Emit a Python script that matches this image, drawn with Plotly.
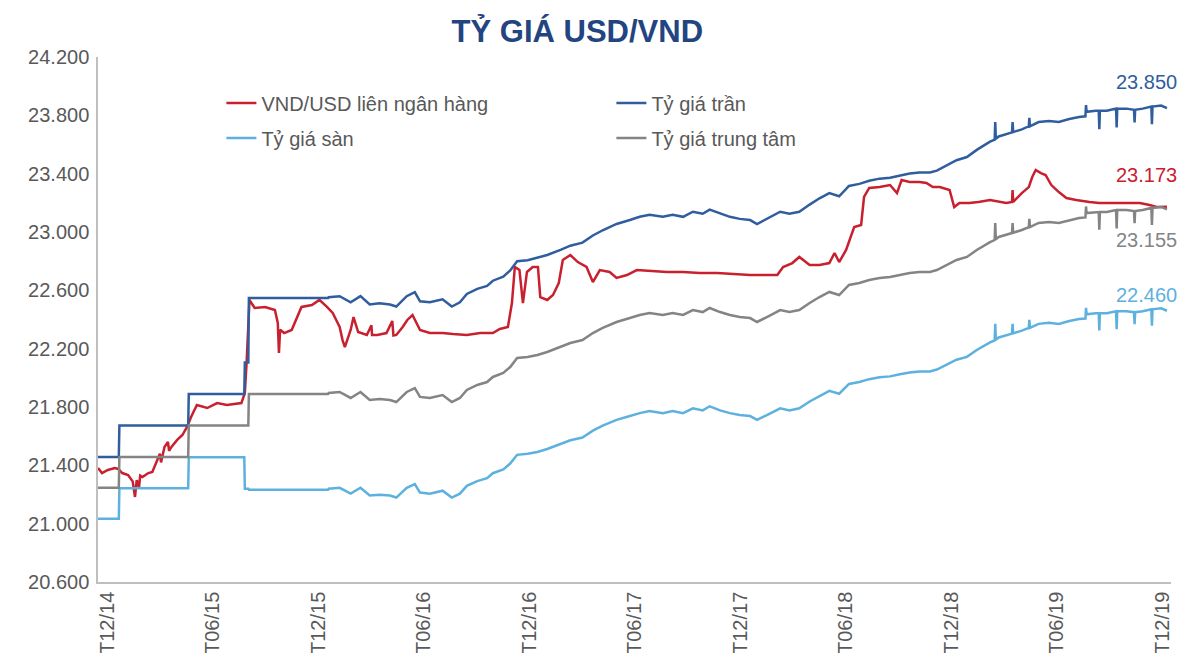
import plotly.graph_objects as go

# ---------------- data ----------------
# Interbank VND/USD rate
ib_dates = ['2014-12-01','2014-12-08','2014-12-18','2014-12-30','2015-01-05','2015-01-12','2015-01-22','2015-01-30',
            '2015-02-03','2015-02-06','2015-02-10','2015-02-12','2015-02-16','2015-02-26','2015-03-05','2015-03-14',
            '2015-03-18','2015-03-20','2015-03-26','2015-04-01','2015-04-03','2015-04-07',
            '2015-04-17','2015-04-26','2015-05-04','2015-05-11','2015-05-21','2015-06-08','2015-06-25','2015-07-12',
            '2015-08-06','2015-08-12','2015-08-15','2015-08-20','2015-08-29','2015-09-16','2015-10-03','2015-10-08',
            '2015-10-10','2015-10-12','2015-10-19','2015-11-01','2015-11-10','2015-11-18','2015-12-06','2015-12-19',
            '2016-01-01','2016-01-11','2016-01-23','2016-01-28','2016-02-01','2016-02-11','2016-02-16','2016-02-24',
            '2016-03-10','2016-03-18','2016-03-19','2016-03-28','2016-04-13','2016-04-23','2016-04-25','2016-04-30',
            '2016-05-11','2016-05-19','2016-05-28','2016-06-10',
            '2016-06-27','2016-07-19','2016-08-06','2016-08-30','2016-09-22','2016-10-14','2016-10-26','2016-11-09',
            '2016-11-16','2016-11-21','2016-11-29','2016-12-05','2016-12-12','2016-12-22','2016-12-31','2017-01-04',
            '2017-01-16','2017-01-26','2017-02-05','2017-02-12','2017-02-25','2017-03-10','2017-03-25','2017-04-05',
            '2017-04-17','2017-05-04','2017-05-16','2017-06-03','2017-06-20','2017-07-12','2017-08-11','2017-09-08',
            '2017-10-07','2017-11-06','2017-12-03','2018-01-02','2018-01-24','2018-02-18','2018-02-28','2018-03-16',
            '2018-03-28','2018-04-15','2018-05-02','2018-05-19','2018-05-28','2018-06-05','2018-06-17','2018-06-26',
            '2018-07-01','2018-07-13','2018-07-18','2018-07-27','2018-08-14','2018-09-01','2018-09-13','2018-09-21',
            '2018-10-05','2018-10-22','2018-11-03','2018-11-14','2018-11-26','2018-12-13','2018-12-21','2018-12-30',
            '2019-01-16','2019-02-01','2019-02-21','2019-03-21','2019-03-31','2019-04-01','2019-04-02','2019-04-17',
            '2019-04-29','2019-05-05','2019-05-11','2019-05-20','2019-05-28','2019-06-07','2019-06-20','2019-07-03',
            '2019-07-20','2019-08-12','2019-08-29','2019-09-21','2019-10-15','2019-11-07','2019-11-24','2019-12-06',
            '2019-12-24']
ib_values = [21382,21347,21368,21382,21375,21347,21334,21290,
             21183,21299,21250,21330,21320,21347,21354,21437,
             21480,21420,21526,21560,21500,21526,
             21574,21608,21663,21731,21814,21793,21827,21814,
             21827,21896,22102,22534,22479,22486,22465,22376,
             22170,22330,22307,22328,22417,22486,22499,22534,
             22486,22445,22349,22259,22211,22328,22417,22314,
             22294,22360,22294,22294,22307,22390,22290,22294,
             22349,22397,22431,22328,
             22307,22307,22300,22294,22307,22307,22335,22349,
             22513,22760,22739,22513,22726,22760,22760,22554,
             22534,22568,22650,22808,22842,22794,22760,22657,
             22739,22726,22685,22705,22739,22733,22726,22726,
             22719,22719,22712,22705,22705,22705,22760,22787,
             22829,22774,22774,22787,22856,22794,22877,22980,
             23034,23048,23240,23302,23308,23322,23267,23356,
             23343,23343,23336,23308,23308,23288,23171,23199,
             23199,23206,23219,23199,23206,23288,23206,23267,
             23308,23377,23425,23404,23391,23322,23274,23233,
             23219,23206,23199,23199,23199,23199,23185,23172,
             23173]

# Central / ceiling / floor rates (same dates)
ref_dates = ['2014-12-01','2015-01-06','2015-01-07','2015-05-06','2015-05-07','2015-08-11','2015-08-12','2015-08-18',
             '2015-08-19','2016-01-03','2016-01-04','2016-01-23','2016-02-11','2016-02-28','2016-03-15','2016-04-01',
             '2016-04-19','2016-04-30','2016-05-18','2016-06-01','2016-06-10','2016-06-27','2016-07-19','2016-08-04',
             '2016-08-18','2016-08-30','2016-09-17','2016-10-04','2016-10-14','2016-11-01','2016-11-13','2016-11-25',
             '2016-12-13','2016-12-30','2017-01-16','2017-02-08','2017-02-25','2017-03-18','2017-04-05','2017-04-22',
             '2017-05-16','2017-06-08','2017-06-25','2017-07-12','2017-08-04','2017-08-21','2017-09-08','2017-09-25',
             '2017-10-12','2017-10-24','2017-11-11','2017-11-28','2017-12-15','2018-01-02','2018-01-14','2018-01-31',
             '2018-02-23','2018-03-11','2018-03-28','2018-04-15','2018-05-02','2018-05-19','2018-06-05','2018-06-22',
             '2018-07-10','2018-07-27','2018-08-14','2018-09-01','2018-09-18','2018-10-05','2018-10-22','2018-11-09',
             '2018-11-21','2018-12-08','2018-12-25','2019-01-12','2019-01-29','2019-02-21','2019-03-01','2019-03-02',
             '2019-03-03','2019-03-08','2019-03-31','2019-04-01','2019-04-02','2019-04-17','2019-04-29','2019-04-30',
             '2019-05-01','2019-05-16','2019-06-03','2019-06-20','2019-07-08','2019-07-25','2019-08-05','2019-08-06',
             '2019-08-07','2019-08-23','2019-08-28','2019-08-29','2019-08-30','2019-09-11','2019-09-27','2019-09-28',
             '2019-09-29','2019-10-15','2019-10-28','2019-10-29','2019-10-30','2019-11-12','2019-11-27','2019-11-28',
             '2019-11-29','2019-12-14','2019-12-24']
central_values = [21246,21246,21458,21458,21673,21673,21673,21673,
                  21890,21890,21896,21903,21862,21903,21848,21855,
                  21848,21834,21903,21930,21869,21862,21882,21834,
                  21862,21917,21951,21971,22006,22033,22074,22136,
                  22143,22157,22177,22211,22239,22259,22307,22342,
                  22383,22410,22431,22445,22431,22445,22431,22465,
                  22451,22479,22451,22431,22417,22410,22383,22417,
                  22465,22451,22465,22513,22554,22589,22568,22637,
                  22650,22671,22685,22691,22705,22719,22726,22726,
                  22739,22774,22808,22829,22877,22931,22945,23062,
                  22950,22966,22993,23062,22995,23014,23034,23090,
                  23034,23062,23069,23062,23082,23096,23100,23175,
                  23130,23137,23137,23015,23137,23137,23151,23025,
                  23151,23151,23144,23060,23144,23151,23165,23048,
                  23165,23172,23155]
ceiling_values = [21458,21458,21673,21673,21890,21890,22106,22106,
                  22547,22547,22553,22560,22518,22560,22503,22511,
                  22503,22489,22560,22588,22525,22518,22538,22489,
                  22518,22575,22610,22630,22666,22694,22736,22800,
                  22807,22822,22842,22877,22906,22927,22976,23012,
                  23055,23082,23104,23118,23104,23118,23104,23139,
                  23125,23153,23125,23104,23090,23082,23055,23090,
                  23139,23125,23139,23188,23231,23267,23245,23316,
                  23330,23351,23366,23372,23386,23401,23408,23408,
                  23421,23457,23492,23514,23563,23619,23633,23754,
                  23639,23655,23683,23754,23685,23704,23725,23783,
                  23725,23754,23761,23754,23775,23789,23793,23870,
                  23824,23831,23831,23705,23831,23831,23846,23716,
                  23846,23846,23838,23752,23838,23846,23860,23739,
                  23860,23867,23850]
floor_values = [21034,21034,21243,21243,21456,21456,21240,21240,
                21233,21233,21239,21246,21206,21246,21193,21199,
                21193,21179,21246,21272,21213,21206,21226,21179,
                21206,21259,21292,21312,21346,21372,21412,21472,
                21479,21492,21512,21545,21572,21591,21638,21672,
                21712,21738,21758,21772,21758,21772,21758,21791,
                21777,21805,21777,21758,21745,21738,21712,21745,
                21791,21777,21791,21838,21877,21911,21891,21958,
                21971,21991,22004,22010,22024,22037,22044,22044,
                22057,22091,22124,22144,22191,22243,22257,22370,
                22262,22277,22303,22370,22305,22324,22343,22397,
                22343,22370,22377,22370,22390,22403,22407,22480,
                22436,22443,22443,22325,22443,22443,22457,22334,
                22457,22457,22450,22368,22450,22457,22470,22357,
                22470,22477,22460]

tick_dates = ['2014-12-01','2015-06-01','2015-12-01','2016-06-01','2016-12-01','2017-06-01',
              '2017-12-01','2018-06-01','2018-12-01','2019-06-01','2019-12-01']
tick_labels = ['T12/14','T06/15','T12/15','T06/16','T12/16','T06/17',
               'T12/17','T06/18','T12/18','T06/19','T12/19']
y_ticks = [20600, 21000, 21400, 21800, 22200, 22600, 23000, 23400, 23800, 24200]

# ---------------- style ----------------
RED = '#C8202F'
DARK_BLUE = '#2F5D9E'
LIGHT_BLUE = '#5DB1DE'
GRAY = '#848484'
TEXT = '#595959'
FONT = 'Liberation Sans, Arial, sans-serif'

fig = go.Figure()
fig.add_trace(go.Scatter(x=ib_dates, y=ib_values, mode='lines', name='VND/USD liên ngân hàng',
                         line=dict(color=RED, width=2.5), legend='legend'))
fig.add_trace(go.Scatter(x=ref_dates, y=ceiling_values, mode='lines', name='Tỷ giá trần',
                         line=dict(color=DARK_BLUE, width=2.5), legend='legend'))
fig.add_trace(go.Scatter(x=ref_dates, y=floor_values, mode='lines', name='Tỷ giá sàn',
                         line=dict(color=LIGHT_BLUE, width=2.5), legend='legend2'))
fig.add_trace(go.Scatter(x=ref_dates, y=central_values, mode='lines', name='Tỷ giá trung tâm',
                         line=dict(color=GRAY, width=2.5), legend='legend2'))

# end labels
end_labels = [
    (ceiling_values[-1], DARK_BLUE, 26),
    (ib_values[-1], RED, 32),
    (central_values[-1], GRAY, -31),
    (floor_values[-1], LIGHT_BLUE, 16),
]
for val, col, ys in end_labels:
    fig.add_annotation(x=1, xref='paper', y=val, yref='y', xanchor='right', yanchor='middle',
                       text=f"{val:,}".replace(',', '.'), showarrow=False, xshift=8, yshift=ys,
                       font=dict(family=FONT, size=20, color=col))

legend_common = dict(orientation='h', xanchor='left', yanchor='middle',
                     entrywidth=345, entrywidthmode='pixels', traceorder='normal',
                     font=dict(family=FONT, size=20, color=TEXT), bgcolor='rgba(0,0,0,0)')

fig.update_layout(
    width=1183, height=653,
    margin=dict(l=98, r=12, t=57, b=71, autoexpand=False),
    paper_bgcolor='white', plot_bgcolor='white',
    separators=',.',
    font=dict(family=FONT, size=20, color=TEXT),
    title=dict(text='<b>TỶ GIÁ USD/VND</b>', x=0.488, xref='container', xanchor='center',
               y=0.952, yref='container', yanchor='middle',
               font=dict(family=FONT, size=31, color='#234480')),
    showlegend=True,
    legend=dict(x=0.115, y=(582 - 103) / 525, **legend_common),
    legend2=dict(x=0.115, y=(582 - 138) / 525, **legend_common),
    xaxis=dict(type='date', range=['2014-12-01', '2019-12-31'], tickvals=tick_dates, ticktext=tick_labels,
               tickangle=-90, showgrid=False, zeroline=False, showline=True, linecolor='#BFBFBF', linewidth=1.5,
               ticks='', tickfont=dict(family=FONT, size=20, color=TEXT), ticklabelshift=9,
               automargin=False),
    yaxis=dict(range=[20600, 24200], tickvals=y_ticks, tickformat=',d', showgrid=False, zeroline=False,
               showline=True, linecolor='#BFBFBF', linewidth=1.5, ticks='',
               tickfont=dict(family=FONT, size=20, color=TEXT), ticklabelstandoff=3,
               automargin=False),
)

fig.write_html('out.html', config={'displayModeBar': False},
               post_script="document.body.style.margin='0px';document.body.style.overflow='hidden';")
